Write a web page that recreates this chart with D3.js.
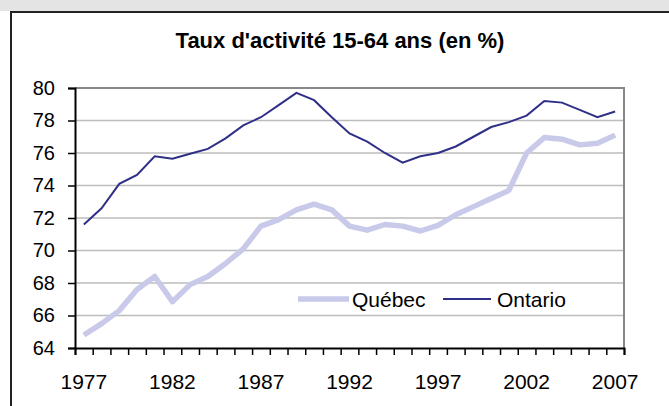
<!DOCTYPE html>
<html>
<head>
    <title>Taux d'activité</title>
    <meta charset="utf-8" />
    <script src="https://cdn.jsdelivr.net/npm/d3@7/dist/d3.min.js"></script>
    <style>
        body { margin: 0; background: #fff; }
        text { font-family: "Liberation Sans", Arial, sans-serif; fill: #000; }
    </style>
</head>
<body>
    <div id="chart"></div>
    <script>
        var years = [1977, 1978, 1979, 1980, 1981, 1982, 1983, 1984, 1985, 1986,
                     1987, 1988, 1989, 1990, 1991, 1992, 1993, 1994, 1995, 1996,
                     1997, 1998, 1999, 2000, 2001, 2002, 2003, 2004, 2005, 2006, 2007];
        var quebec = [64.8, 65.5, 66.3, 67.6, 68.4, 66.85, 67.9, 68.4, 69.2, 70.1,
                      71.5, 71.9, 72.5, 72.85, 72.5, 71.5, 71.25, 71.6, 71.5, 71.2,
                      71.55, 72.2, 72.7, 73.2, 73.7, 76.0, 76.95, 76.85, 76.5, 76.6, 77.1];
        var ontario = [71.6, 72.6, 74.1, 74.65, 75.8, 75.65, 75.95, 76.25, 76.9, 77.7,
                       78.2, 78.95, 79.7, 79.25, 78.2, 77.2, 76.7, 76.0, 75.4, 75.8,
                       76.0, 76.4, 77.0, 77.6, 77.9, 78.3, 79.2, 79.1, 78.65, 78.2, 78.55];
        var yTicks = [64, 66, 68, 70, 72, 74, 76, 78, 80];
        var xLabels = [1977, 1982, 1987, 1992, 1997, 2002, 2007];
        var seriesNames = ["Québec", "Ontario"];

        var width = 669;
        var height = 406;
        // plot box (note: "top" is a reserved window property, so use other names)
        var plotLeft = 75, plotRight = 624, plotTop = 88, plotBottom = 348;

        var svg = d3.select("#chart")
            .append("svg")
            .attr("width", width)
            .attr("height", height);

        // window frame
        svg.append("rect").attr("x", 0).attr("y", 0).attr("width", width).attr("height", 11)
            .attr("fill", "#e4e4e4");
        svg.append("path").attr("d", "M11,406 V12 H669")
            .attr("fill", "none").attr("stroke", "#222").attr("stroke-width", 2);

        var x = d3.scaleBand().domain(years).range([plotLeft, plotRight]).paddingInner(0).paddingOuter(0);
        var y = d3.scaleLinear().domain([64, 80]).range([plotBottom, plotTop]);

        // gridlines
        svg.selectAll(".grid")
            .data(yTicks.filter(function (d) { return d > 64 && d < 80; }))
            .enter().append("line")
            .attr("x1", plotLeft).attr("x2", plotRight)
            .attr("y1", function (d) { return y(d); })
            .attr("y2", function (d) { return y(d); })
            .attr("stroke", "#bdbdbd").attr("stroke-width", 1.5);

        // plot border (top, right)
        svg.append("path")
            .attr("d", "M" + plotLeft + "," + y(80) + " H" + plotRight + " V" + plotBottom)
            .attr("fill", "none").attr("stroke", "#888").attr("stroke-width", 2);

        // y axis
        var yAxis = d3.axisLeft(y).tickValues(yTicks).tickSize(7).tickPadding(13);
        var gy = svg.append("g").attr("transform", "translate(" + plotLeft + ",0)").call(yAxis);
        gy.select(".domain").attr("stroke", "#000").attr("stroke-width", 2);
        gy.selectAll(".tick line").attr("stroke", "#000").attr("stroke-width", 1.5);
        gy.selectAll(".tick text").style("font-size", "20px").attr("fill", "#000");

        // x axis: tick marks between categories, labels every 5 years
        var xb = d3.scaleLinear().domain([0, years.length]).range([plotLeft, plotRight]);
        var xTickAxis = d3.axisBottom(xb).tickValues(d3.range(0, years.length + 1))
            .tickSize(7).tickFormat("");
        var gx = svg.append("g").attr("transform", "translate(0," + plotBottom + ")").call(xTickAxis);
        gx.select(".domain").attr("stroke", "#000").attr("stroke-width", 2);
        gx.selectAll(".tick line").attr("stroke", "#000").attr("stroke-width", 1.5);

        var xAxis = d3.axisBottom(x).tickValues(xLabels).tickSize(0).tickPadding(26);
        var gx2 = svg.append("g").attr("transform", "translate(0," + plotBottom + ")").call(xAxis);
        gx2.select(".domain").remove();
        gx2.selectAll(".tick text").style("font-size", "21px").attr("fill", "#000");

        var line = d3.line()
            .x(function (d, i) { return x(years[i]) + x.bandwidth() / 2; })
            .y(function (d) { return y(d); });

        svg.append("path").datum(quebec)
            .attr("d", line)
            .attr("fill", "none").attr("stroke", "#c9c9ea").attr("stroke-width", 5.5)
            .attr("stroke-linejoin", "round");

        svg.append("path").datum(ontario)
            .attr("d", line)
            .attr("fill", "none").attr("stroke", "#2f2f88").attr("stroke-width", 2);

        // legend
        var legendColors = ["#c9c9ea", "#2f2f88"];
        var legendWidths = [5.5, 2];
        var legendX = [298, 443];
        var legend = svg.selectAll(".legend")
            .data(seriesNames)
            .enter().append("g")
            .attr("class", "legend")
            .attr("transform", function (d, i) { return "translate(" + legendX[i] + ",299)"; });
        legend.append("line")
            .attr("x1", 0).attr("x2", function (d, i) { return i === 0 ? 51 : 48; })
            .attr("y1", 0).attr("y2", 0)
            .attr("stroke", function (d, i) { return legendColors[i]; })
            .attr("stroke-width", function (d, i) { return legendWidths[i]; });
        legend.append("text")
            .attr("x", 54)
            .attr("y", 7.5)
            .style("font-size", "21px")
            .text(function (d) { return d; });

        // title
        svg.append("text")
            .attr("x", 340).attr("y", 48)
            .attr("text-anchor", "middle")
            .style("font-size", "22px").style("font-weight", "bold")
            .text("Taux d'activité 15-64 ans (en %)");
    </script>
</body>
</html>
